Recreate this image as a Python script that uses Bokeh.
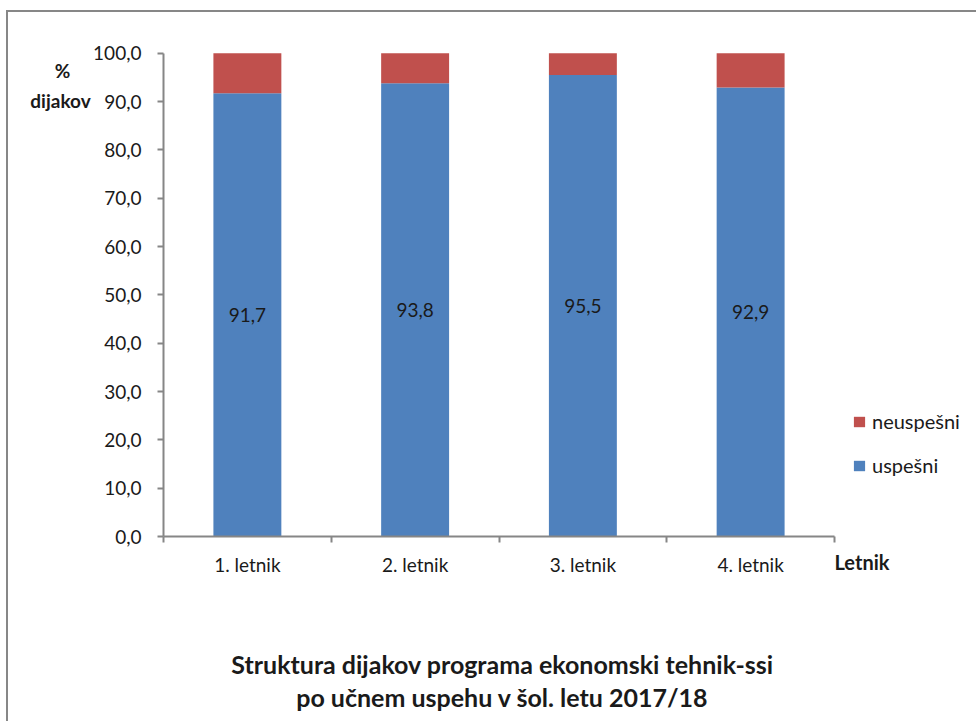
from bokeh.plotting import figure
from bokeh.models import (ColumnDataSource, FixedTicker, Legend, LegendItem, Label,
                          LabelSet, Range1d)
from bokeh.core.properties import value
from bokeh.embed import file_html
from bokeh.resources import INLINE

# ---- data ----
categories = ["1. letnik", "2. letnik", "3. letnik", "4. letnik"]
uspesni = [91.7, 93.8, 95.5, 92.9]
neuspesni = [8.3, 6.2, 4.5, 7.1]
y_ticks = [0, 10, 20, 30, 40, 50, 60, 70, 80, 90, 100]
y_tick_labels = ["0,0", "10,0", "20,0", "30,0", "40,0", "50,0", "60,0", "70,0", "80,0", "90,0", "100,0"]
title_lines = ["Struktura dijakov programa ekonomski tehnik-ssi",
               "po učnem uspehu v šol. letu 2017/18"]
y_title = ["%", "dijakov"]
x_title = "Letnik"

FONT = "Lato"
BLUE = "#4F81BD"
RED = "#C0504D"
AXIS = "#868686"
TXT = "#1a1a1a"

# ---- layout (canvas pixels) ----
W, H = 970, 711
PX0, PX1 = 155.0, 826.0      # canvas x of category axis start / end
PY100, PY0 = 40.7, 524.0     # canvas y (from top) of 100 and 0
ncat = len(categories)
sx = (PX1 - PX0) / ncat
sy = (PY0 - PY100) / 100.0
x_start = -PX0 / sx
x_end = x_start + W / sx
y_end = 100 + PY100 / sy
y_start = y_end - H / sy

xpos = [i + 0.5 for i in range(ncat)]
src = ColumnDataSource(dict(
    x=xpos, uspesni=uspesni, neuspesni=neuspesni,
    mid=[v / 2 for v in uspesni],
    lbl=[f"{v:.1f}".replace(".", ",") for v in uspesni],
))

p = figure(width=W, height=H, output_backend="svg", toolbar_location=None,
           x_range=Range1d(x_start, x_end), y_range=Range1d(y_start, y_end),
           min_border=0)
p.styles = {"margin-left": "6px", "margin-top": "10px",
            "border-left": "2px solid #878787", "border-top": "2px solid #878787"}
p.outline_line_color = None
p.grid.grid_line_color = None

rs = p.vbar_stack(["uspesni", "neuspesni"], x="x", width=0.405, source=src,
                  color=[BLUE, RED], line_color=None)

# x axis: labels at centres, tick marks between categories
xa = p.xaxis[0]
xa.fixed_location = 0
xa.bounds = (0, ncat)
xa.ticker = FixedTicker(ticks=xpos, minor_ticks=list(range(ncat + 1)))
xa.major_label_overrides = {x: c for x, c in zip(xpos, categories)}
xa.major_tick_line_color = None
xa.major_tick_out = 6
xa.minor_tick_line_color = AXIS
xa.minor_tick_out = 6
xa.minor_tick_in = 0
xa.minor_tick_line_width = 2
xa.axis_line_color = AXIS
xa.axis_line_width = 2
xa.major_label_standoff = 10
xa.major_label_text_font = FONT
xa.major_label_text_font_size = "19px"
xa.major_label_text_color = TXT

ya = p.yaxis[0]
ya.fixed_location = 0
ya.bounds = (0, 100)
ya.ticker = FixedTicker(ticks=y_ticks, minor_ticks=[])
ya.major_label_overrides = {t: l for t, l in zip(y_ticks, y_tick_labels)}
ya.axis_line_color = AXIS
ya.axis_line_width = 2
ya.major_tick_line_color = AXIS
ya.major_tick_line_width = 2
ya.major_tick_out = 6
ya.major_tick_in = 0
ya.minor_tick_line_color = None
ya.major_label_standoff = 16
ya.major_label_text_font = FONT
ya.major_label_text_font_size = "19px"
ya.major_label_text_color = TXT

# data labels
labels = LabelSet(x="x", y="mid", text="lbl", source=src, text_align="center",
                  text_baseline="middle", text_font=value(FONT),
                  text_font_size="19px", text_color=TXT)
p.add_layout(labels)

# legend
legend = Legend(items=[LegendItem(label="neuspešni", renderers=[rs[1]]),
                       LegendItem(label="uspešni", renderers=[rs[0]])],
                location=(844, 246), orientation="vertical",
                glyph_width=14, glyph_height=13, label_height=20, spacing=20,
                label_standoff=6, padding=0, margin=0, border_line_color=None,
                background_fill_alpha=0,
                label_text_font=FONT, label_text_font_size="20px",
                label_text_color=TXT)
p.add_layout(legend, "center")

# axis titles
p.add_layout(Label(x=0, y=100, x_offset=-101, y_offset=-17, text=y_title[0],
                   text_align="center", text_baseline="middle", text_font=FONT,
                   text_font_size="19px", text_font_style="bold", text_color=TXT))
p.add_layout(Label(x=0, y=100, x_offset=-103, y_offset=-47, text=y_title[1],
                   text_align="center", text_baseline="middle", text_font=FONT,
                   text_font_size="19px", text_font_style="bold", text_color=TXT))
p.add_layout(Label(x=ncat, y=0, x_offset=0, y_offset=-25, text=x_title,
                   text_align="left", text_baseline="middle", text_font=FONT,
                   text_font_size="20px", text_font_style="bold", text_color=TXT))

# chart title (bottom)
for i, line in enumerate(title_lines):
    p.add_layout(Label(x=0, y=0, x_offset=339, y_offset=-127 - 33 * i,
                       text=line, text_align="center", text_baseline="middle",
                       text_font=FONT, text_font_size="25px", text_font_style="bold",
                       text_color=TXT))

open("out.html", "w").write(file_html(p, INLINE))
